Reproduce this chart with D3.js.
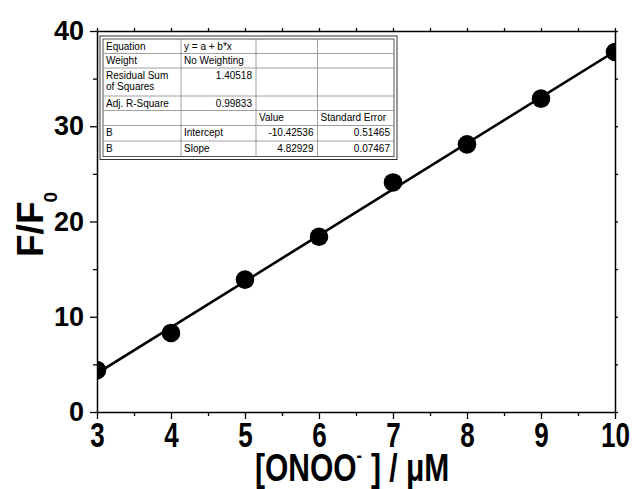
<!DOCTYPE html>
<html>
<head>
<meta charset="utf-8">
<script src="https://cdn.jsdelivr.net/npm/d3@7"></script>
<style>
  body { margin: 0; background: #fff; }
  svg { display: block; font-family: "Liberation Sans", Arial, sans-serif; }
</style>
</head>
<body>
<svg id="chart" width="635" height="489"></svg>
<script>
// measured points
const conc = [3, 4, 5, 6, 7, 8, 9, 10];
const ratio = [4.4, 8.3, 13.9, 18.4, 24.1, 28.1, 32.9, 37.8];

// linear fit from the table
const fitIntercept = -10.42536;
const fitSlope = 4.82929;

const xTicks = [3, 4, 5, 6, 7, 8, 9, 10];
const yTicks = [0, 10, 20, 30, 40];

const tableRows = [
    ['Equation', 'y = a + b*x', '', ''],
    ['Weight', 'No Weighting', '', ''],
    ['Residual Sum\nof Squares', '1.40518', '', ''],
    ['Adj. R-Square', '0.99833', '', ''],
    ['', '', 'Value', 'Standard Error'],
    ['B', 'Intercept', '-10.42536', '0.51465'],
    ['B', 'Slope', '4.82929', '0.07467']
];

const svg = d3.select('#chart');
const m = {left: 97, right: 615, top: 31, bottom: 412};

const x = d3.scaleLinear().domain([3, 10]).range([m.left, m.right]);
const y = d3.scaleLinear().domain([0, 40]).range([m.bottom, m.top]);

svg.append('defs').append('clipPath').attr('id', 'plotclip')
    .append('rect')
    .attr('x', m.left).attr('y', m.top)
    .attr('width', m.right - m.left).attr('height', m.bottom - m.top);

const halfX = d3.range(3.5, 10, 1);
const halfY = d3.range(5, 40, 10);

function styleAxis(g) {
    g.selectAll('path.domain').attr('stroke', '#000').attr('stroke-width', 1.5);
    g.selectAll('.tick line').attr('stroke', '#000').attr('stroke-width', 1.3);
}

// bottom axis
const gx = svg.append('g').attr('transform', `translate(0,${m.bottom})`)
    .call(d3.axisBottom(x).tickValues(xTicks).tickSize(7).tickSizeOuter(0).tickFormat(d3.format('d')))
    .call(styleAxis);
gx.selectAll('text')
    .attr('y', 0).attr('dy', 0)
    .attr('transform', 'translate(0,35) scale(1,1.35)')
    .attr('font-size', 26).attr('font-weight', 'bold')
    .attr('font-family', '"Liberation Sans", Arial, sans-serif')
    .attr('fill', '#000');
svg.append('g').attr('transform', `translate(0,${m.bottom})`)
    .call(d3.axisBottom(x).tickValues(halfX).tickSize(4).tickFormat(''))
    .call(styleAxis).select('path.domain').remove();

// left axis
const gy = svg.append('g').attr('transform', `translate(${m.left},0)`)
    .call(d3.axisLeft(y).tickValues(yTicks).tickSize(7).tickSizeOuter(0).tickPadding(6))
    .call(styleAxis);
gy.selectAll('text')
    .attr('font-size', 27).attr('font-weight', 'bold')
    .attr('font-family', '"Liberation Sans", Arial, sans-serif')
    .attr('fill', '#000');
svg.append('g').attr('transform', `translate(${m.left},0)`)
    .call(d3.axisLeft(y).tickValues(halfY).tickSize(4).tickFormat(''))
    .call(styleAxis).select('path.domain').remove();

// mirror axes
svg.append('g').attr('transform', `translate(0,${m.top})`)
    .call(d3.axisTop(x).tickValues(xTicks.concat(halfX)).tickSize(3).tickSizeOuter(0).tickFormat(''))
    .call(styleAxis);
svg.append('g').attr('transform', `translate(${m.right},0)`)
    .call(d3.axisRight(y).tickValues(yTicks.concat(halfY)).tickSize(3).tickSizeOuter(0).tickFormat(''))
    .call(styleAxis);

// fit line + points
const plot = svg.append('g').attr('clip-path', 'url(#plotclip)');
const fitLine = d3.line().x(d => x(d)).y(d => y(fitIntercept + fitSlope * d));
plot.append('path')
    .datum([conc[0], conc[conc.length - 1]])
    .attr('d', fitLine)
    .attr('fill', 'none').attr('stroke', '#000').attr('stroke-width', 2.6);
plot.selectAll('circle')
    .data(conc)
    .join('circle')
    .attr('cx', d => x(d))
    .attr('cy', (d, i) => y(ratio[i]))
    .attr('r', 9.3)
    .attr('fill', '#000');

// axis titles
const yt = svg.append('text')
    .attr('transform', 'translate(43,257) rotate(-90)')
    .attr('font-size', 37).attr('font-weight', 'bold').attr('fill', '#000');
yt.append('tspan').text('F/F');
yt.append('tspan').attr('font-size', 19).attr('dy', 14).attr('dx', -1).text('0');

const xt = svg.append('text')
    .attr('transform', 'translate(255,481) scale(1,1.28)')
    .attr('font-size', 30).attr('font-weight', 'bold').attr('fill', '#000');
xt.append('tspan').text('[ONOO');
xt.append('tspan').attr('font-size', 16).attr('dy', -15).text('-');
xt.append('tspan').attr('dy', 15).attr('dx', 9).text('] / \u03bcM');

// fit table
const colX = [103, 181, 256, 317.5, 394];
const rowH = [14.5, 14.5, 28, 14.5, 15, 15.5, 15.5];
const rowY = [39];
rowH.forEach((h, i) => rowY.push(rowY[i] + h));

const tbl = svg.append('g');
tbl.append('rect')
    .attr('x', 100).attr('y', 36)
    .attr('width', colX[4] + 3 - 100).attr('height', rowY[rowY.length - 1] + 3 - 36)
    .attr('fill', '#fff').attr('stroke', '#333').attr('stroke-width', 1);
tbl.append('rect')
    .attr('x', colX[0]).attr('y', rowY[0])
    .attr('width', colX[4] - colX[0]).attr('height', rowY[rowY.length - 1] - rowY[0])
    .attr('fill', 'none').attr('stroke', '#555').attr('stroke-width', 1);
rowY.slice(1, -1).forEach(yy => {
    tbl.append('line').attr('x1', colX[0]).attr('x2', colX[4]).attr('y1', yy).attr('y2', yy)
        .attr('stroke', '#888').attr('stroke-width', 0.8);
});
colX.slice(1, -1).forEach(xx => {
    tbl.append('line').attr('x1', xx).attr('x2', xx).attr('y1', rowY[0]).attr('y2', rowY[rowY.length - 1])
        .attr('stroke', '#888').attr('stroke-width', 0.8);
});

const isNum = s => /^-?[\d.]+$/.test(s);
tableRows.forEach((row, r) => {
    row.forEach((cell, c) => {
        if (!cell) return;
        const right = isNum(cell);
        const t = tbl.append('text')
            .attr('x', right ? colX[c + 1] - 4 : colX[c] + 3)
            .attr('y', rowY[r] + 10.5)
            .attr('text-anchor', right ? 'end' : 'start')
            .attr('font-size', 10).attr('fill', '#000');
        cell.split('\n').forEach((ln, k) => {
            t.append('tspan').attr('x', right ? colX[c + 1] - 4 : colX[c] + 3)
                .attr('dy', k ? 11.5 : 0).text(ln);
        });
    });
});
</script>
</body>
</html>
